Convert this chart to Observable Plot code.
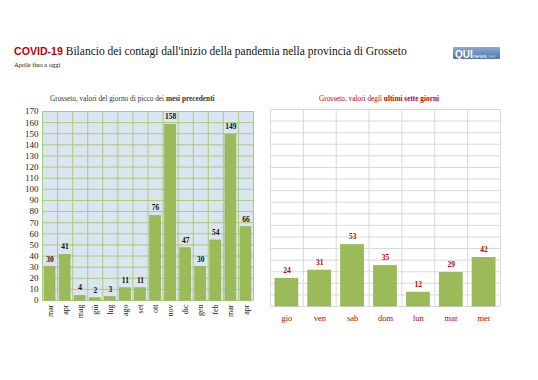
<!DOCTYPE html>
<html>
<head>
<meta charset="utf-8">
<script src="https://cdn.jsdelivr.net/npm/d3@7"></script>
<script src="https://cdn.jsdelivr.net/npm/@observablehq/plot@0.6"></script>
<style>
  html, body { margin: 0; padding: 0; background: #fff; }
  #page { position: relative; width: 538px; height: 380px; overflow: hidden; font-family: "Liberation Serif", serif; }
  .abs { position: absolute; white-space: nowrap; }
  #title { left: 14px; top: 45px; font-size: 11.5px; color: #111; }
  #title .covid { font-family: "Liberation Sans", sans-serif; font-weight: bold; color: #c00000; font-size: 10.6px; }
  #sub { left: 14px; top: 61px; font-size: 6.5px; color: #111; }
  #logo { left: 453px; top: 47px; width: 47px; height: 12px; background: linear-gradient(#8fa9d0, #4f74ad); border-radius: 1px; font-family: "Liberation Sans", sans-serif; line-height: 12px; }
  #logo .q { color: #fff; font-weight: bold; font-size: 10px; margin-left: 2px; }
  #logo .n { color: #fff; font-size: 6px; }
  #logo .i { color: #b9cbe6; font-size: 5px; }
  #lt { left: 50px; top: 94px; font-size: 7.3px; color: #333; }
  #rt { left: 319px; top: 94px; font-size: 7.3px; color: #c00000; }
  #left, #right { position: absolute; top: 100px; }
  #left { left: 0px; }
  #right { left: 265px; }
</style>
</head>
<body>
<div id="page">
  <div id="title" class="abs"><span class="covid">COVID-19</span> Bilancio dei contagi dall'inizio della pandemia nella provincia di Grosseto</div>
  <div id="sub" class="abs">Aprile fino a oggi</div>
  <div id="logo" class="abs"><span class="q">QUI</span><span class="n">news</span><span class="i">.net</span></div>
  <div id="lt" class="abs">Grosseto, valori del giorno di picco dei <b>mesi precedenti</b></div>
  <div id="rt" class="abs">Grosseto, valori degli <b>ultimi sette giorni</b></div>
  <div id="left"></div>
  <div id="right"></div>
</div>
<script>
const leftMonths = ["mar","apr","mag","giù","lug","ago","set","ott","nov","dic","gen","feb","mar","apr"];
const leftValues = [30,41,4,2,3,11,11,76,158,47,30,54,149,66];
const rightDays = ["gio","ven","sab","dom","lun","mar","mer"];
const rightValues = [24,31,53,35,12,29,42];
const yTicks = d3.range(0, 171, 10);

const leftData = leftMonths.map((m, i) => ({i, m, v: leftValues[i]}));
const rightData = rightDays.map((d, i) => ({i, d, v: rightValues[i]}));

const barFill = "#9bbb59";
const barStroke = "#8dab4f";

const left = Plot.plot({
  width: 258, height: 230,
  marginLeft: 42, marginRight: 5, marginTop: 11, marginBottom: 30,
  style: {fontFamily: "Liberation Serif, serif", background: "transparent"},
  x: {domain: [0, leftMonths.length], label: null},
  y: {domain: [0, 170], label: null},
  marks: [
    Plot.frame({fill: "#dbe5f1", stroke: null}),
    Plot.ruleY(yTicks, {stroke: "#a9cc78", strokeWidth: 1}),
    Plot.ruleX(d3.range(0, leftMonths.length + 1), {stroke: "#a9cc78", strokeWidth: 1}),
    Plot.rectY(leftData, {x1: d => d.i + 0.14, x2: d => d.i + 0.86, y: "v", fill: barFill, stroke: barStroke, strokeWidth: 0.6}),
    Plot.text(leftData, {x: d => d.i + 0.5, y: "v", text: d => String(d.v), dy: -8, fontWeight: "bold", fontSize: 7.5, fill: "#111"}),
    Plot.axisY({ticks: yTicks, tickSize: 0, tickPadding: 4, fontSize: 9, fill: "#222", label: null}),
    Plot.axisX({ticks: d3.range(leftMonths.length).map(i => i + 0.5), tickFormat: t => leftMonths[Math.floor(t)], tickRotate: -90, tickSize: 0, tickPadding: 4, fontSize: 8, fill: "#222", label: null})
  ]
});
document.getElementById("left").appendChild(left);

const right = Plot.plot({
  width: 238, height: 230,
  marginLeft: 5, marginRight: 3, marginTop: 9, marginBottom: 24,
  style: {fontFamily: "Liberation Serif, serif", background: "transparent"},
  x: {domain: [0, rightDays.length], label: null},
  y: {domain: [0, 170], label: null},
  marks: [
    Plot.ruleY(yTicks, {stroke: "#d9d9d9", strokeWidth: 1}),
    Plot.ruleX(d3.range(0, rightDays.length + 1), {stroke: "#d9d9d9", strokeWidth: 1}),
    Plot.rectY(rightData, {x1: d => d.i + 0.15, x2: d => d.i + 0.85, y: "v", fill: barFill, stroke: barStroke, strokeWidth: 0.6}),
    Plot.text(rightData, {x: d => d.i + 0.5, y: "v", text: d => String(d.v), dy: -8, fontWeight: "bold", fontSize: 7.5, fill: "#c00000"}),
    Plot.axisX({ticks: d3.range(rightDays.length).map(i => i + 0.5), tickFormat: t => rightDays[Math.floor(t)], tickSize: 0, tickPadding: 8, fontSize: 8.5, fill: "#c00000", label: null}),
    Plot.axisY({ticks: [], label: null})
  ]
});
document.getElementById("right").appendChild(right);
</script>
</body>
</html>
